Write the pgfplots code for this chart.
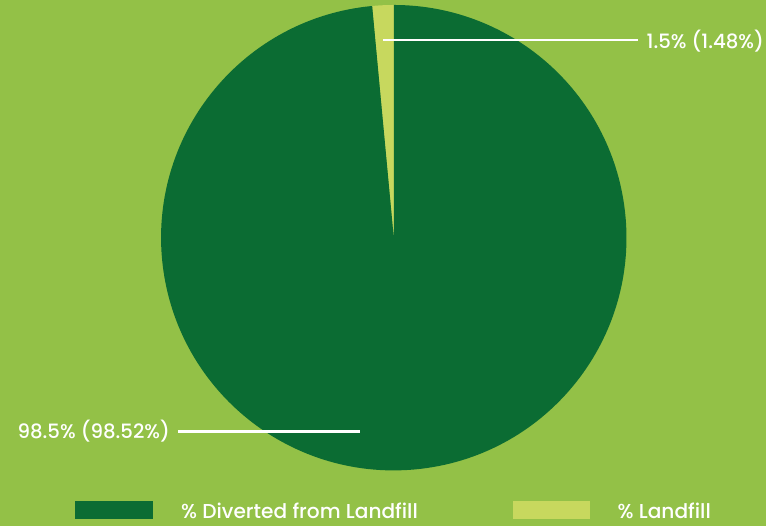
\documentclass[border=0pt]{standalone}
\usepackage{fontspec}
\setmainfont{Poppins}[UprightFont=* Medium]
\usepackage{pgfplots}
\usepackage{pgfplotstable}
\pgfplotsset{compat=1.18}
\definecolor{bg}{HTML}{93C147}
\definecolor{darkg}{HTML}{0B6C33}
\definecolor{lightg}{HTML}{C7D85E}
\pgfplotstableread{
label value
Diverted 98.52
Landfill 1.48
}\piedata
\begin{document}
\pgfplotstablegetelem{0}{value}\of\piedata \let\vA\pgfplotsretval
\pgfplotstablegetelem{1}{value}\of\piedata \let\vB\pgfplotsretval
\pgfmathsetmacro{\angB}{90+3.6*\vB}
\begin{tikzpicture}
\begin{axis}[
  name=ax,
  x=1pt, y=1pt, scale only axis,
  xmin=0, xmax=766, ymin=0, ymax=527,
  hide axis, clip=false,
]
% background
\fill[bg] (axis cs:-6,-6) rectangle (axis cs:772,533);
% pie slices
\fill[lightg] (axis cs:392.5,288.5) -- ++(90:233.5) arc[start angle=90, end angle=\angB, radius=233.5pt] -- cycle;
\fill[darkg] (axis cs:392.5,288.5) -- ++(\angB:233.5) arc[start angle=\angB, end angle=450, radius=233.5pt] -- cycle;
% leader lines
\draw[white, line width=2.2pt] (axis cs:382,487) -- (axis cs:638,487);
\draw[white, line width=2.2pt] (axis cs:176,94) -- (axis cs:359,94);
\node[anchor=west, text=white, font=\fontsize{19.8}{22}\selectfont, inner sep=0pt] at (axis cs:646,486) {1.5\% (1.48\%)};
\node[anchor=east, text=white, font=\fontsize{19.8}{22}\selectfont, inner sep=0pt] at (axis cs:168,94) {98.5\% (98.52\%)};
% legend
\fill[darkg] (axis cs:73,6) rectangle (axis cs:151,24);
\fill[lightg] (axis cs:512,6) rectangle (axis cs:589,24);
\node[anchor=west, text=white, font=\fontsize{20.2}{22}\selectfont, inner sep=0pt] at (axis cs:179,14) {\% Diverted from Landfill};
\node[anchor=west, text=white, font=\fontsize{20.2}{22}\selectfont, inner sep=0pt] at (axis cs:617,14) {\% Landfill};
\end{axis}
\pgfresetboundingbox
\path (ax.south west) rectangle (ax.north east);
\end{tikzpicture}
\end{document}
